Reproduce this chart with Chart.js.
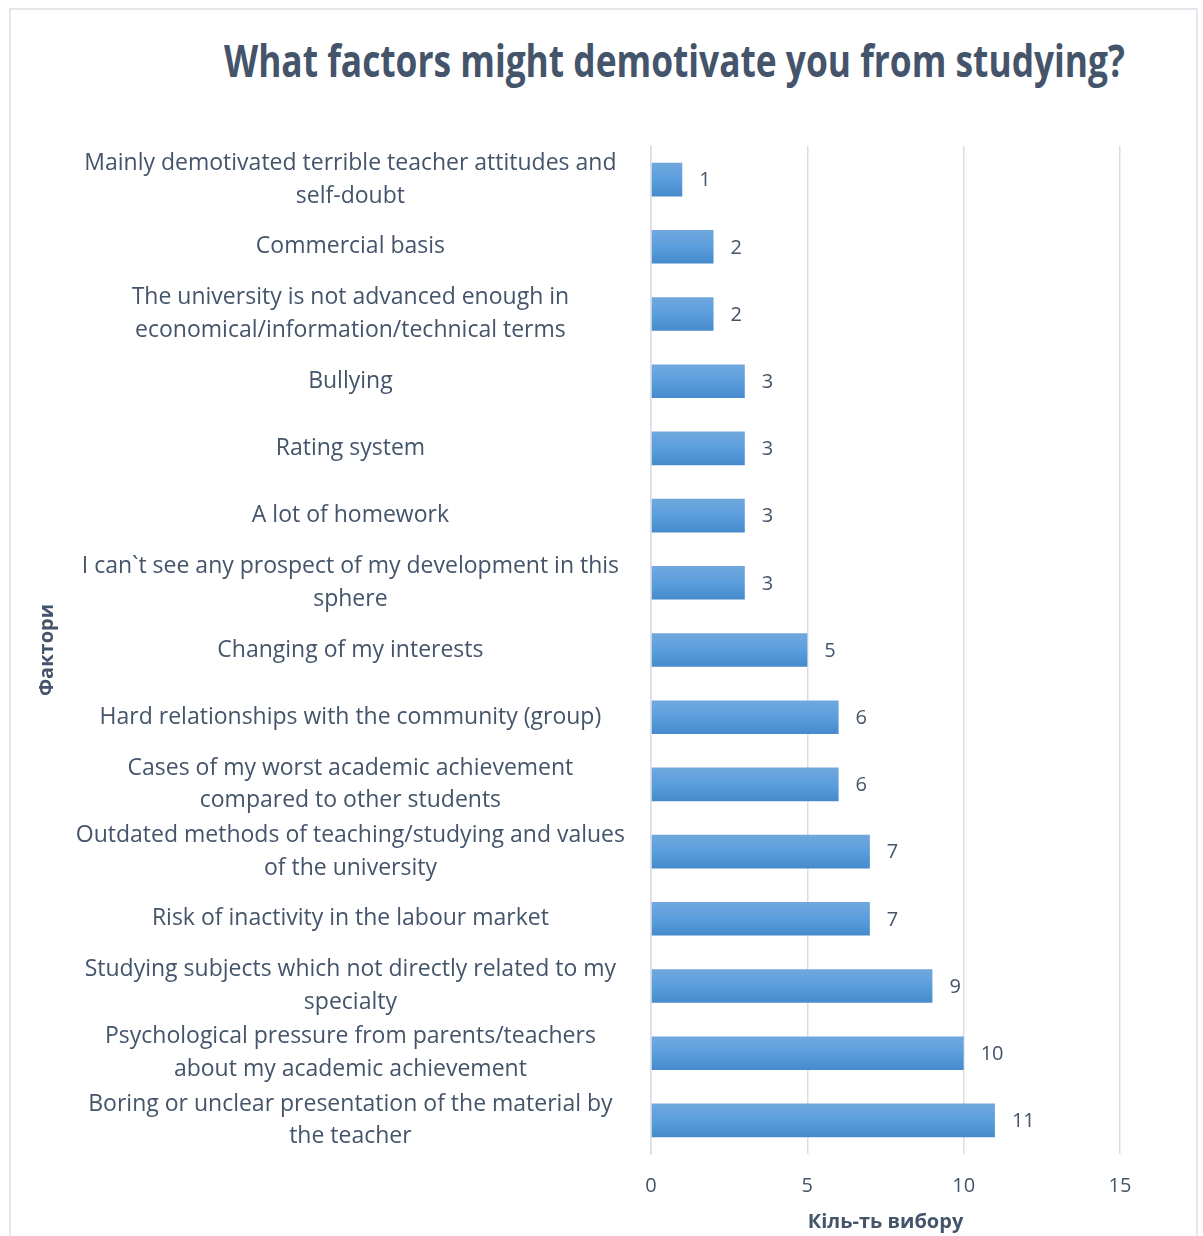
<!DOCTYPE html>
<html lang="en">
<head>
  <meta charset="UTF-8" />
  <title>What factors might demotivate you from studying?</title>
  <script src="https://cdn.jsdelivr.net/npm/chart.js"></script>
  <style>
    body { margin: 0; background: #fff; }
    #wrap { position: relative; width: 1203px; height: 1236px; overflow: hidden; }
    #frame { position: absolute; left: 9px; top: 8px; width: 1185px; height: 1240px; border: 2px solid #E4E7EC; }
    #title {
      position: absolute; left: 224px; top: 34px; margin: 0;
      font: bold 44px "Open Sans", sans-serif; color: #44546A;
      white-space: nowrap; transform-origin: 0 0; line-height: 52px;
    }
    canvas { position: absolute; left: 0; top: 0; }
  </style>
</head>
<body>
  <div id="wrap">
    <div id="frame"></div>
    <h1 id="title">What factors might demotivate you from studying?</h1>
    <canvas id="barChart" width="1203" height="1236"></canvas>
  </div>

  <script>
    const categories = [
      ["Mainly demotivated terrible teacher attitudes and", "self-doubt"],
      "Commercial basis",
      ["The university is not advanced enough in", "economical/information/technical terms"],
      "Bullying",
      "Rating system",
      "A lot of homework",
      ["I can`t see any prospect of my development in this", "sphere"],
      "Changing of my interests",
      "Hard relationships with the community (group)",
      ["Cases of my worst academic achievement", "compared to other students"],
      ["Outdated methods of teaching/studying and values", "of the university"],
      "Risk of inactivity in the labour market",
      ["Studying subjects which not directly related to my", "specialty"],
      ["Psychological pressure from parents/teachers", "about my academic achievement"],
      ["Boring or unclear presentation of the material by", "the teacher"]
    ];
    const counts = [1, 2, 2, 3, 3, 3, 3, 5, 6, 6, 7, 7, 9, 10, 11];
    const xMax = 15;
    const xStep = 5;

    // squeeze the title to the width of the original (narrow font there)
    const title = document.getElementById("title");
    title.style.transform = "scaleX(" + (901 / title.offsetWidth) + ")";

    const textColor = "#44546A";
    const gridColor = "#D9DEE6";

    function barFill(c) {
      const chart = c.chart;
      const y = chart.scales.y;
      if (!chart.chartArea || !y) return "#5B9BD5";
      const py = y.getPixelForValue(c.dataIndex);
      const g = chart.ctx.createLinearGradient(0, py - 17, 0, py + 17);
      g.addColorStop(0, "#71A8DD");
      g.addColorStop(0.5, "#5B9EDE");
      g.addColorStop(1, "#478ACB");
      return g;
    }

    const valueLabels = {
      id: "valueLabels",
      afterDatasetsDraw(chart) {
        const ctx = chart.ctx;
        ctx.save();
        ctx.font = "20px 'Open Sans', sans-serif";
        ctx.fillStyle = textColor;
        ctx.textAlign = "left";
        ctx.textBaseline = "middle";
        chart.getDatasetMeta(0).data.forEach((bar, i) => {
          ctx.fillText(String(counts[i]), bar.x + 17, bar.y + 1);
        });
        ctx.restore();
      }
    };

    new Chart(document.getElementById("barChart"), {
      type: "bar",
      data: {
        labels: categories,
        datasets: [{
          data: counts,
          backgroundColor: barFill,
          barPercentage: 0.5,
          categoryPercentage: 1
        }]
      },
      options: {
        indexAxis: "y",
        responsive: false,
        animation: false,
        layout: { padding: { left: 10, top: 146, right: 83, bottom: 2 } },
        plugins: {
          legend: { display: false },
          tooltip: { enabled: false }
        },
        scales: {
          x: {
            min: 0,
            max: xMax,
            afterFit(scale) { scale.height = 80; },
            ticks: {
              stepSize: xStep,
              padding: 20,
              color: textColor,
              font: { family: "'Open Sans', sans-serif", size: 20 }
            },
            grid: { color: gridColor, lineWidth: 1.5, drawTicks: false },
            border: { display: false },
            title: {
              display: true,
              text: "Кіль-ть вибору",
              color: textColor,
              padding: { top: 0, bottom: 0 },
              font: { family: "'Open Sans', sans-serif", size: 20, weight: "bold" }
            }
          },
          y: {
            afterFit(scale) { scale.width = 641; },
            ticks: {
              autoSkip: false,
              crossAlign: "center",
              padding: 26,
              color: textColor,
              font: { family: "'Open Sans', sans-serif", size: 23, lineHeight: 1.43 }
            },
            grid: { display: false, drawTicks: false },
            border: { display: true, color: gridColor, width: 1.5 },
            title: {
              display: true,
              text: "Фактори",
              color: textColor,
              padding: { top: 25, bottom: 0 },
              font: { family: "'Open Sans', sans-serif", size: 20, weight: "bold" }
            }
          }
        }
      },
      plugins: [valueLabels]
    });
  </script>
</body>
</html>
